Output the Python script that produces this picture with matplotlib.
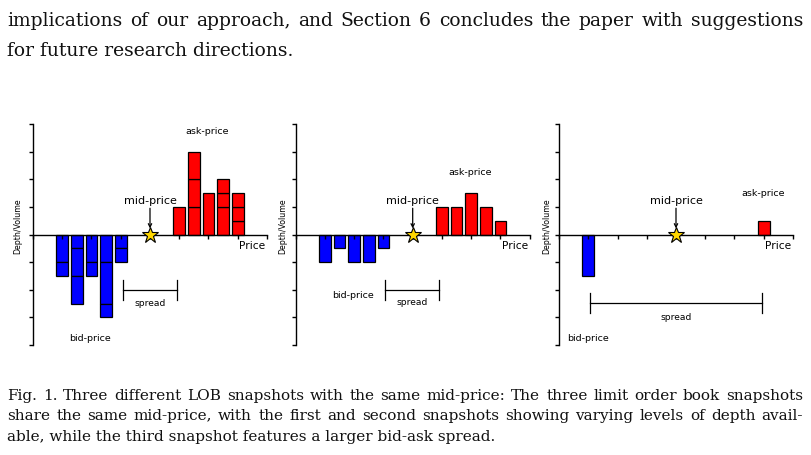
import matplotlib
matplotlib.use("Agg")
import matplotlib.pyplot as plt

# ---------------- data ----------------
panel_bid_prices = [[1, 2, 3, 4, 5], [1, 2, 3, 4, 5], [1]]
panel_ask_prices = [[9, 10, 11, 12, 13], [9, 10, 11, 12, 13], [13]]
# stacked order sizes at each price level
panel1_bid_levels = [[1, 0.5], [0.5, 1, 1], [1, 0.5], [1, 1.5, 0.5], [0.5, 0.5]]
panel1_ask_levels = [[1], [1, 1, 1], [1.5], [1, 0.5, 0.5], [0.5, 0.5, 0.5]]
panel2_bid_levels = [[1], [0.5], [1], [1], [0.5]]
panel2_ask_levels = [[1], [1], [1.5], [1], [0.5]]
panel3_bid_levels = [[1.5]]
panel3_ask_levels = [[0.5]]
mid_price = 7
spread_ranges = [(5.15, 8.88), (5.13, 8.83), (1.1, 12.86)]

top_lines = ["implications of our approach, and Section 6 concludes the paper with suggestions",
             "for future research directions."]
caption_lines = ["Fig. 1. Three different LOB snapshots with the same mid-price: The three limit order book snapshots",
                 "share the same mid-price, with the first and second snapshots showing varying levels of depth avail-",
                 "able, while the third snapshot features a larger bid-ask spread."]

bid_levels = [panel1_bid_levels, panel2_bid_levels, panel3_bid_levels]
ask_levels = [panel1_ask_levels, panel2_ask_levels, panel3_ask_levels]

# ---------------- figure ----------------
W, H = 811, 456
fig = plt.figure(figsize=(W / 100, H / 100), dpi=100)
fig.patch.set_facecolor("white")

def fx(px):
    return px / W

def fy(py):
    return 1 - py / H

axes_left_px = [33, 295.7, 559]
axes_width_px = 234
axes_top_px, axes_bottom_px = 125, 346

BLUE = "#0000FF"
RED = "#FF0000"
STAR = "#FFD700"

ask_label_pos = [(10.9, 3.78), (10.9, 2.29), (12.95, 1.53)]
bid_label_pos = [(2.92, -3.74), (2.93, -2.18), (1.0, -3.74)]
spread_y = [-2.0, -2.0, -2.48]
spread_text_y = [-2.47, -2.44, -2.96]
ylabel_off = [15, 13, 12]

for i in range(3):
    ax = fig.add_axes([fx(axes_left_px[i]), fy(axes_bottom_px),
                       fx(axes_width_px), (axes_bottom_px - axes_top_px) / H])
    ax.set_xlim(-1, 15)
    ax.set_ylim(-4, 4)
    ax.patch.set_alpha(0)
    for s in ("top", "right"):
        ax.spines[s].set_visible(False)
    ax.spines["bottom"].set_position(("data", 0))
    ax.spines["left"].set_linewidth(1.0)
    ax.spines["bottom"].set_linewidth(1.0)
    ax.set_xticks(range(-1, 16, 2))
    ax.set_yticks(range(-4, 5))
    ax.set_xticklabels([])
    ax.set_yticklabels([])
    ax.tick_params(axis="both", direction="out", length=3, width=1.0, color="black")

    # bids (negative, stacked)
    for x, segs in zip(panel_bid_prices[i], bid_levels[i]):
        cum = 0.0
        for s in segs:
            ax.bar(x, -s, bottom=-cum, width=0.8, color=BLUE, edgecolor="black",
                   linewidth=0.9, zorder=1)
            cum += s
    # asks (positive, stacked)
    for x, segs in zip(panel_ask_prices[i], ask_levels[i]):
        cum = 0.0
        for s in segs:
            ax.bar(x, s, bottom=cum, width=0.8, color=RED, edgecolor="black",
                   linewidth=0.9, zorder=1)
            cum += s

    # mid-price star and arrow
    ax.plot([mid_price], [0], marker="*", markersize=12, markerfacecolor=STAR,
            markeredgecolor="black", markeredgewidth=0.8, zorder=5, clip_on=False)
    ax.annotate("", xy=(mid_price, 0.22), xytext=(mid_price, 0.95),
                arrowprops=dict(arrowstyle="->", lw=0.9, color="black",
                                mutation_scale=6, shrinkA=0, shrinkB=0), zorder=4)
    ax.text(mid_price, 1.25, "mid-price", ha="center", va="center", fontsize=8,
            family="DejaVu Sans")

    # spread bracket
    x0, x1 = spread_ranges[i]
    y = spread_y[i]
    ax.plot([x0, x1], [y, y], color="black", lw=0.9)
    ax.plot([x0, x0], [y - 0.36, y + 0.36], color="black", lw=0.9)
    ax.plot([x1, x1], [y - 0.36, y + 0.36], color="black", lw=0.9)
    ax.text((x0 + x1) / 2, spread_text_y[i], "spread", ha="center", va="center",
            fontsize=6.6, family="DejaVu Sans")

    ax.text(*ask_label_pos[i], "ask-price", ha="center", va="center", fontsize=6.8,
            family="DejaVu Sans")
    ax.text(*bid_label_pos[i], "bid-price", ha="center", va="center", fontsize=6.8,
            family="DejaVu Sans")
    ax.text(14.0, -0.37, "Price", ha="center", va="center", fontsize=7.7,
            family="DejaVu Sans")
    fig.text(fx(axes_left_px[i] - ylabel_off[i]), fy(226), "Depth/Volume",
             rotation=90, ha="center", va="center", fontsize=5.7, family="DejaVu Sans")

# ---------------- justified paragraph text ----------------
renderer = fig.canvas.get_renderer()
SERIF = "DejaVu Serif"

def natural_width(text, size):
    t = fig.text(0, 0, text, fontsize=size, family=SERIF)
    w = t.get_window_extent(renderer).width
    t.remove()
    return w

def fit_size(text, target, base=10.0):
    return base * target / natural_width(text, base)

def put_line(text, x0, y_base, size, x1=None):
    kw = dict(fontsize=size, family=SERIF, va="baseline", ha="left", color="#111111")
    if x1 is None:
        fig.text(fx(x0), fy(y_base), text, **kw)
        return
    words = text.split(" ")
    arts = [fig.text(0, fy(y_base), w, **kw) for w in words]
    widths = [a.get_window_extent(renderer).width for a in arts]
    gap = (x1 - x0 - sum(widths)) / (len(words) - 1)
    pos = x0
    for a, w in zip(arts, widths):
        a.set_x(fx(pos))
        pos += w + gap

top_size = fit_size(top_lines[0], 796 * 0.985)
put_line(top_lines[0], 7.3, 26.5, top_size, x1=803)
put_line(top_lines[1], 7.3, 55.8, top_size)

cap_size = fit_size(caption_lines[0], 796 * 0.985)
put_line(caption_lines[0], 7.0, 400, cap_size, x1=803)
put_line(caption_lines[1], 7.0, 420.5, cap_size, x1=803)
put_line(caption_lines[2], 7.0, 441, cap_size)

fig.savefig("out.png", dpi=100, facecolor="white")
